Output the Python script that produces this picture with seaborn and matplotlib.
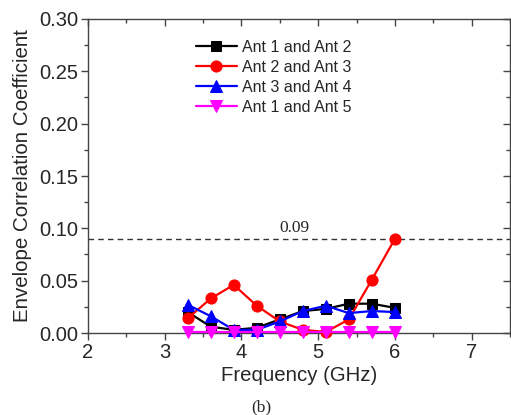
import matplotlib
matplotlib.use("Agg")
import matplotlib.pyplot as plt
from matplotlib.ticker import MultipleLocator, FormatStrFormatter
import seaborn as sns
import pandas as pd

freq = [3.3, 3.6, 3.9, 4.2, 4.5, 4.8, 5.1, 5.4, 5.7, 6.0]
ecc_12 = [0.020, 0.006, 0.003, 0.005, 0.013, 0.021, 0.023, 0.028, 0.028, 0.024]
ecc_23 = [0.014, 0.033, 0.046, 0.026, 0.011, 0.003, 0.001, 0.013, 0.051, 0.090]
ecc_34 = [0.027, 0.016, 0.003, 0.003, 0.011, 0.021, 0.026, 0.019, 0.021, 0.020]
ecc_15 = [0.001, 0.001, 0.001, 0.001, 0.001, 0.001, 0.001, 0.001, 0.001, 0.001]
labels = ["Ant 1 and Ant 2", "Ant 2 and Ant 3", "Ant 3 and Ant 4", "Ant 1 and Ant 5"]
threshold = 0.09
threshold_label = "0.09"

sns.set_style("ticks")
plt.rcParams["font.family"] = ["Liberation Sans", "DejaVu Sans"]

fig = plt.figure(figsize=(5.11, 4.15), dpi=100)
ax = fig.add_axes([88 / 511, 1 - 333 / 415, 422 / 511, 314 / 415])

series = [ecc_12, ecc_23, ecc_34, ecc_15]
colors = ["black", "red", "blue", "#FF00FF"]
markers = ["s", "o", "^", "v"]
sizes = [7, 8, 8, 8]
for vals, lab, c, m, ms in zip(series, labels, colors, markers, sizes):
    df = pd.DataFrame({"f": freq, "v": vals})
    sns.lineplot(data=df, x="f", y="v", ax=ax, color=c, marker=m, markersize=ms,
                 markeredgecolor=c, linewidth=1.6, label=lab, clip_on=False, zorder=3)

ax.axhline(threshold, color="#333333", linestyle=(0, (4, 3)), linewidth=1.0, zorder=2)
ax.text(4.69, threshold + 0.003, threshold_label, ha="center", va="bottom",
        fontsize=12.5, family=["Liberation Serif", "DejaVu Serif"])

ax.set_xlim(2, 7.5)
ax.set_ylim(0, 0.30)
ax.xaxis.set_major_locator(MultipleLocator(1))
ax.xaxis.set_minor_locator(MultipleLocator(0.5))
ax.yaxis.set_major_locator(MultipleLocator(0.05))
ax.yaxis.set_minor_locator(MultipleLocator(0.025))
ax.yaxis.set_major_formatter(FormatStrFormatter("%.2f"))

for s in ax.spines.values():
    s.set_visible(True)
    s.set_color("#444444")
    s.set_linewidth(1.0)
ax.tick_params(axis="both", which="major", direction="out", length=5, width=1,
               color="#444444", labelsize=14.5, pad=2)
ax.tick_params(axis="both", which="minor", direction="out", length=3, width=1,
               color="#444444")
ax.tick_params(top=True, right=True, which="both", labeltop=False, labelright=False)
# top/right ticks point inward
for line in ax.xaxis.get_majorticklines()[1::2] + ax.xaxis.get_minorticklines()[1::2]:
    line.set_marker(3)
for line in ax.yaxis.get_majorticklines()[1::2] + ax.yaxis.get_minorticklines()[1::2]:
    line.set_marker(0)

ax.set_xlabel("Frequency (GHz)", fontsize=14.7, labelpad=3)
ax.set_ylabel("Envelope Correlation Coefficient", fontsize=14.8, labelpad=5)

fig.text(0.512, 1 - 407 / 415, "(b)", ha="center", va="center", fontsize=12.5,
         family=["Liberation Serif", "DejaVu Serif"])

ax.legend(loc="upper left", bbox_to_anchor=(0.24, 0.955), frameon=False,
          fontsize=11.5, handlelength=2.6, labelspacing=0.32, handletextpad=0.3,
          borderaxespad=0)

fig.savefig("out.png", dpi=100)
